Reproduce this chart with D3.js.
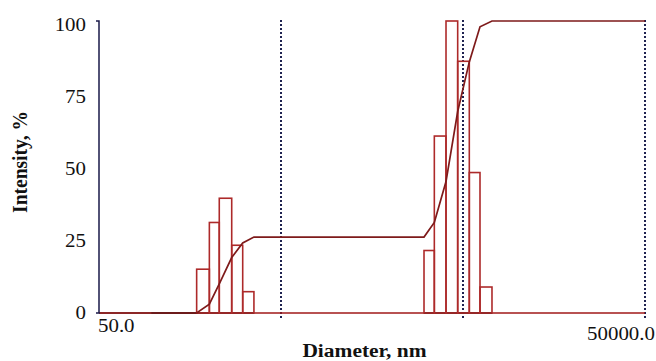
<!DOCTYPE html>
<html><head><meta charset="utf-8">
<script src="https://cdn.jsdelivr.net/npm/d3@7"></script>
<style>html,body{margin:0;padding:0;background:#fff;}svg{display:block;}</style>
</head><body>
<script>
// Histogram bins (diameter in nm) and intensity (%)
const binLo = [172, 202, 229, 268, 308, 3053, 3479, 4033, 4675, 5415, 6200];
const binHi = [202, 229, 268, 308, 355, 3479, 4033, 4675, 5415, 6200, 7215];
const intensity = [15, 31, 39.3, 23.2, 7.3, 21.4, 60.6, 100, 86.2, 48.1, 8.9];
// Cumulative curve
const cumDiameter = [50, 172, 202, 229, 268, 308, 355, 3053, 3479, 4033, 4675, 5415, 6200, 7215, 50000];
const cumValue =    [0, 0, 3, 10, 19, 24, 26, 26, 31, 45, 69, 86, 98, 100, 100];
// Axis ticks
const yTicks = [0, 25, 50, 75, 100];
const gridDiameters = [500, 5000, 50000];
const xDomain = [50, 50000];
const xLabels = ["50.0", "50000.0"];
// Baseline black segments (under populations)
const baseSegLo = [97, 3053];
const baseSegHi = [355, 7215];

const W = 656, H = 361;
const svg = d3.select("body").append("svg").attr("width", W).attr("height", H);
const x = d3.scaleLog().domain(xDomain).range([99, 645]);
const y = d3.scaleLinear().domain([0, 100]).range([313, 21]);
const yLab = d3.scaleLinear().domain([0, 100]).range([311.7, 23.5]);
const serif = "'Liberation Serif','Times New Roman',serif";
const FS = 19;
const SX = 1.1;

// dotted decade lines
svg.selectAll("line.grid").data(gridDiameters).enter().append("line")
  .attr("x1", d => x(d)).attr("x2", d => x(d))
  .attr("y1", y(100) - 1).attr("y2", 319)
  .attr("stroke", "#1f2250").attr("stroke-width", 2)
  .attr("stroke-dasharray", "2,2");

// baseline
svg.append("line").attr("x1", x(xDomain[0])).attr("x2", x(xDomain[1]))
  .attr("y1", y(0)).attr("y2", y(0)).attr("stroke", "#a01818").attr("stroke-width", 1.5);
svg.selectAll("line.bs").data(baseSegLo).enter().append("line")
  .attr("x1", d => x(d)).attr("x2", (d, i) => x(baseSegHi[i]))
  .attr("y1", y(0)).attr("y2", y(0)).attr("stroke", "#111").attr("stroke-width", 1.5);

// bars
svg.selectAll("rect.bar").data(intensity).enter().append("rect")
  .attr("x", (d, i) => x(binLo[i]))
  .attr("width", (d, i) => x(binHi[i]) - x(binLo[i]))
  .attr("y", d => y(d))
  .attr("height", d => y(0) - y(d))
  .attr("fill", "none").attr("stroke", "#ad2a2a").attr("stroke-width", 1.6);

// cumulative line
const line = d3.line().x(d => x(d[0])).y(d => y(d[1]));
svg.append("path").datum(cumDiameter.map((d, i) => [d, cumValue[i]]))
  .attr("d", line).attr("fill", "none").attr("stroke", "#7e1a1a").attr("stroke-width", 1.7);

// y axis
const yAxis = d3.axisLeft(y).tickValues(yTicks).tickSize(0).tickFormat(d3.format("d"));
const ga = svg.append("g").attr("transform", `translate(${x(xDomain[0])},0)`).call(yAxis);
ga.select(".domain").attr("stroke", "#1a1a4a").attr("stroke-width", 1.5).attr("d", `M-3,${y(100)}H0V${y(0)}H-3`);
ga.selectAll(".tick text").each(function(d) {
  const t = d3.select(this);
  const off = yLab(d) - y(d);
  t.attr("font-family", serif).attr("font-size", FS).attr("fill", "#111")
   .attr("x", 0).attr("dy", "0.35em")
   .attr("transform", `translate(-13,${off}) scale(${SX},1)`);
});

// x labels
svg.append("text").attr("transform", `translate(98,332) scale(${SX},1)`)
  .attr("font-family", serif).attr("font-size", FS).attr("fill", "#111").text(xLabels[0]);
svg.append("text").attr("transform", `translate(655,340) scale(${SX},1)`).attr("text-anchor", "end")
  .attr("font-family", serif).attr("font-size", FS).attr("fill", "#111").text(xLabels[1]);

// axis titles
svg.append("text").attr("transform", `translate(364.5,357) scale(${SX},1)`).attr("text-anchor", "middle")
  .attr("font-family", serif).attr("font-weight", "bold").attr("font-size", 19.5).attr("fill", "#111")
  .text("Diameter, nm");
svg.append("text").attr("transform", `translate(27,162) scale(${SX},1) rotate(-90)`).attr("text-anchor", "middle")
  .attr("font-family", serif).attr("font-weight", "bold").attr("font-size", 19.5).attr("fill", "#111")
  .text("Intensity, %");
</script>
</body></html>
